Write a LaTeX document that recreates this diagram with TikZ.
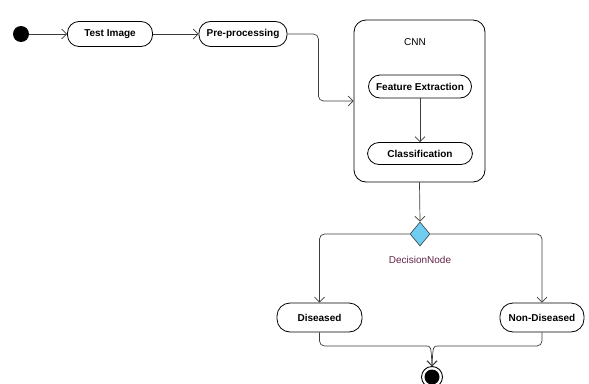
\documentclass[tikz,border=0pt]{standalone}
\usepackage{fontspec}
\setmainfont{Liberation Sans}
\usetikzlibrary{arrows.meta,shapes.geometric,calc}
\definecolor{lin}{RGB}{60,60,60}
\definecolor{dia}{RGB}{110,205,240}
\definecolor{dnc}{RGB}{100,35,70}
\tikzset{
  act/.style={draw=black, line width=0.8pt, rounded corners=11.5pt, minimum height=25pt, inner sep=2pt, font=\fontsize{10}{11}\selectfont\bfseries},
  arr/.style={draw=lin, line width=0.7pt, -{Straight Barb[length=5pt,width=10pt]}},
  ln/.style={draw=lin, line width=0.7pt},
}
\begin{document}
\begin{tikzpicture}[x=1pt,y=-1pt]
\useasboundingbox (0,0) rectangle (589,383);
\fill[black] (21,34) circle (8);
\node[circle, minimum size=16pt, inner sep=0pt] (st) at (21,34) {};
\node[act, minimum width=85pt] (test) at (110,34) {Test Image};
\node[act, minimum width=88pt] (pre) at (243,34) {Pre-processing};
\node[draw=black, line width=0.8pt, rounded corners=12pt, minimum width=131pt, minimum height=162pt, inner sep=0pt] (cnn) at (419.5,101) {};
\node[font=\fontsize{10}{11}\selectfont] (cnnl) at (415,42) {CNN};
\node[act, minimum width=103pt, minimum height=23pt] (fe) at (420,86.5) {Feature Extraction};
\node[act, minimum width=105pt, minimum height=22pt] (cl) at (420,153.5) {Classification};
\node[diamond, draw=lin, fill=dia, line width=0.6pt, minimum width=20pt, minimum height=24pt, inner sep=0pt] (dec) at (420,234) {};
\node[text=dnc, font=\fontsize{10}{11}\selectfont] (decl) at (420,260) {DecisionNode};
\node[act, minimum width=85pt, minimum height=29pt, rounded corners=13pt] (dis) at (319.5,317.5) {Diseased};
\node[act, minimum width=84pt, minimum height=29pt, rounded corners=13pt] (non) at (542,317.5) {Non-Diseased};
\draw[line width=0.9pt, fill=white] (432,377) circle (10.5);
\fill[black] (432,377) circle (7.5);
\node[circle, minimum size=21pt, inner sep=0pt] (end) at (432,377) {};
\draw[arr] (st) -- (test);
\draw[arr] (test) -- (pre);
\draw[arr, rounded corners=5pt] (pre.east) -- ++(31,0) |- (cnn.west);
\draw[arr] (fe) -- (cl);
\draw[arr] (cnn.south) -- (dec.north);
\draw[arr, rounded corners=5pt] (dec.west) -| (dis.north);
\draw[arr, rounded corners=5pt] (dec.east) -| (non.north);
\coordinate (mL) at (426,346);
\coordinate (mR) at (438,346);
\draw[ln, rounded corners=5pt] (dis.south) |- (mL);
\draw[ln, rounded corners=5pt] (non.south) |- (mR);
\draw[arr] (mL) .. controls (431,346) .. (end.north);
\draw[arr] (mR) .. controls (433,346) .. (end.north);
\end{tikzpicture}
\end{document}
